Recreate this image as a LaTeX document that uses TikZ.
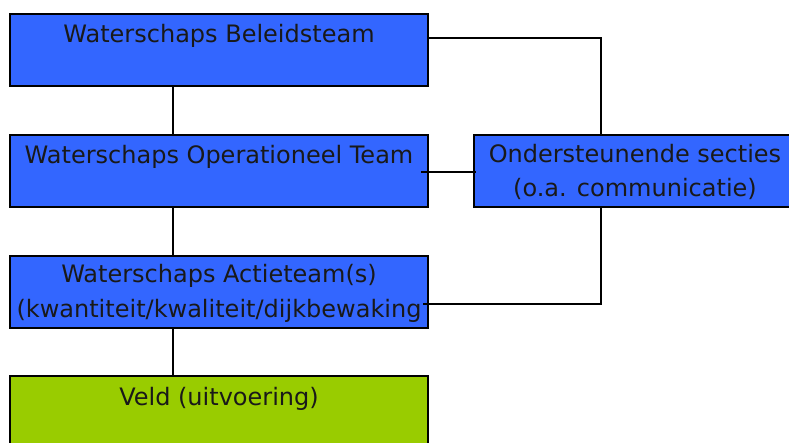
\documentclass[tikz,border=0pt]{standalone}
\usepackage{fontspec}
\setmainfont{DejaVu Sans}
\definecolor{boxblue}{HTML}{3366FF}
\definecolor{boxgreen}{HTML}{99CC00}
\begin{document}
\begin{tikzpicture}[x=1pt,y=-1pt,
  orgbox/.style={draw=black,line width=2pt},
  conn/.style={draw=black,line width=1.5pt},
  lbl/.style={anchor=base,inner sep=0pt,font=\fontsize{24}{24}\selectfont,text=black!90}]
\useasboundingbox (0,0) rectangle (789,443);
\clip (0,0) rectangle (789,443);
\fill[white] (0,0) rectangle (789,443);
% connectors (behind boxes)
\coordinate (c1) at (601,38);
\coordinate (c2) at (601,304);
\coordinate (b1r) at (428,38);
\coordinate (b2r) at (421,172);
\coordinate (b3r) at (423,304);
\draw[conn] (b1r) -- (c1) -- (601,135);
\draw[conn] (601,207) -- (c2) -- (b3r);
\draw[conn] (173,86) -- (173,135);
\draw[conn] (173,207) -- (173,256);
\draw[conn] (173,328) -- (173,376);
% boxes
\path[orgbox,fill=boxblue] (10,14) rectangle (428,86);
\path[orgbox,fill=boxblue] (10,135) rectangle (428,207);
\path[orgbox,fill=boxblue] (10,256) rectangle (428,328);
\path[orgbox,fill=boxgreen] (10,376) rectangle (428,460);
\path[orgbox,fill=boxblue] (474,135) rectangle (796,207);
\draw[conn] (b2r) -- (476,172);
\draw[conn] (c2) -- (b3r);
% labels
\node[lbl] (t1) at (219,43) {Waterschaps Beleidsteam};
\node[lbl] (t2) at (219,164) {Waterschaps Operationeel Team};
\node[lbl] (t3a) at (219,283) {Waterschaps Actieteam(s)};
\node[lbl] (t3b) at (219,317) {(kwantiteit/kwaliteit/dijkbewaking};
\node[lbl] (t4) at (219,405) {Veld (uitvoering)};
\node[lbl] (t5a) at (635,163) {Ondersteunende secties};
\node[lbl] (t5b) at (635,197) {(o.a. communicatie)};
\end{tikzpicture}
\end{document}
